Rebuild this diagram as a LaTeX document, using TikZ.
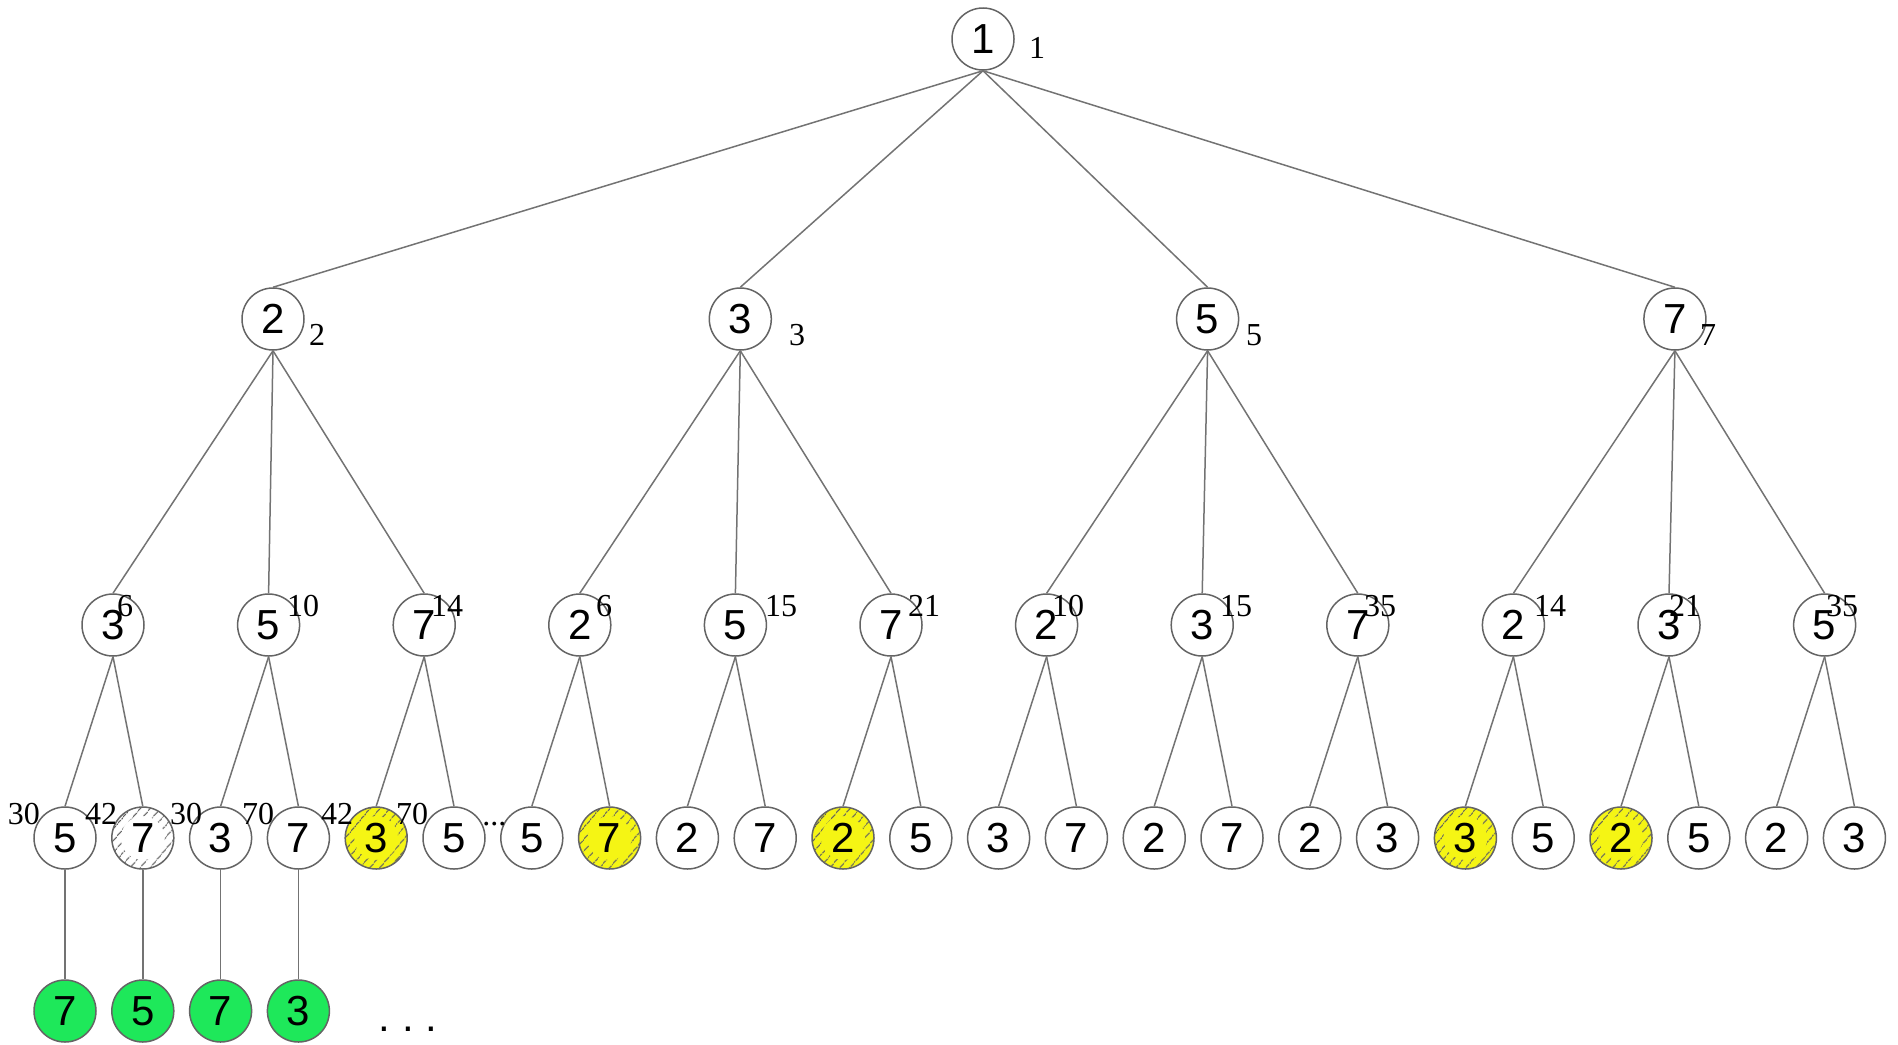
\documentclass[tikz,border=0pt]{standalone}
\usepackage{fontspec}
\setmainfont{Liberation Serif}
\newfontfamily\digitfont{Liberation Sans}
\usetikzlibrary{patterns.meta}
\definecolor{hyellow}{RGB}{245,245,20}
\definecolor{hgreen}{RGB}{30,232,90}
\definecolor{edgegray}{RGB}{115,115,115}
\definecolor{ringgray}{RGB}{100,100,100}
\definecolor{hatchgray}{RGB}{95,95,95}
\tikzset{
  nd/.style={circle,draw=ringgray,line width=0.75pt,fill=white,minimum size=31pt,inner sep=0pt,
    font=\digitfont\fontsize{21}{21}\selectfont},
  plain/.style={},
  hatched/.style={fill=#1,path picture={
      \fill[even odd rule,pattern={Lines[angle=50,distance=4pt,line width=0.7pt]},pattern color=hatchgray]
        (path picture bounding box.center) circle[radius=16pt]
        (path picture bounding box.center) circle[radius=11pt];}},
  yh/.style={hatched=hyellow},
  gh/.style={hatched=white},
  gr/.style={fill=hgreen},
  lbl/.style={inner sep=0pt,font=\fontsize{16}{16}\selectfont},
  edge/.style={draw=edgegray,line width=0.75pt}
}
\begin{document}
\begin{tikzpicture}[x=0.5pt,y=-0.5pt]
\useasboundingbox (0,0) rectangle (1898,1044);
% root
\node[nd] (r) at (983,39) {1};
\node[lbl] (rl) at (1037,48) {1};
% level 1
\foreach \v/\lx [count=\i from 0] in {2/317,3/797,5/1254,7/1708}{
  \pgfmathsetmacro\xx{273+467.3*\i}
  \node[nd] (a\i) at (\xx,319) {\v};
  \node[lbl] (al\i) at (\lx,335) {\v};
  \draw[edge] (r.south) -- (a\i.north);
}
% level 2
\foreach \v/\lx/\t [count=\i from 0] in {3/125/6,5/303/10,7/447/14,2/604/6,5/781/15,7/924/21,2/1068/10,3/1236/15,7/1380/35,2/1550/14,3/1685/21,5/1842/35}{
  \pgfmathsetmacro\xx{113+155.6*\i}
  \pgfmathtruncatemacro\p{int(\i/3)}
  \node[nd] (b\i) at (\xx,625) {\v};
  \node[lbl] (bl\i) at (\lx,606) {\t};
  \draw[edge] (a\p.south) -- (b\i.north);
}
% level 3
\foreach \v/\s [count=\i from 0] in {5/plain,7/gh,3/plain,7/plain,3/yh,5/plain,5/plain,7/yh,2/plain,7/plain,2/yh,5/plain,3/plain,7/plain,2/plain,7/plain,2/plain,3/plain,3/yh,5/plain,2/yh,5/plain,2/plain,3/plain}{
  \pgfmathsetmacro\xx{65+77.8*\i}
  \pgfmathtruncatemacro\p{int(\i/2)}
  \node[nd,\s] (c\i) at (\xx,838) {\v};
  \draw[edge] (b\p.south) -- (c\i.north);
}
\foreach \t/\lx [count=\i from 0] in {30/24,42/101,30/186,70/258,42/337,70/412}{
  \node[lbl] (cl\i) at (\lx,814) {\t};
}
\node[lbl,anchor=base west] (cdots) at (482,825) {...};
% level 4
\foreach \v [count=\i from 0] in {7,5,7,3}{
  \pgfmathsetmacro\xx{65+77.8*\i}
  \node[nd,gr] (d\i) at (\xx,1011) {\v};
  \draw[edge] (c\i.south) -- (d\i.north);
}
\node[inner sep=0pt,font=\digitfont\fontsize{21}{21}\selectfont,anchor=base] (ddots) at (408,1031) {.\ .\ .};
\end{tikzpicture}
\end{document}
